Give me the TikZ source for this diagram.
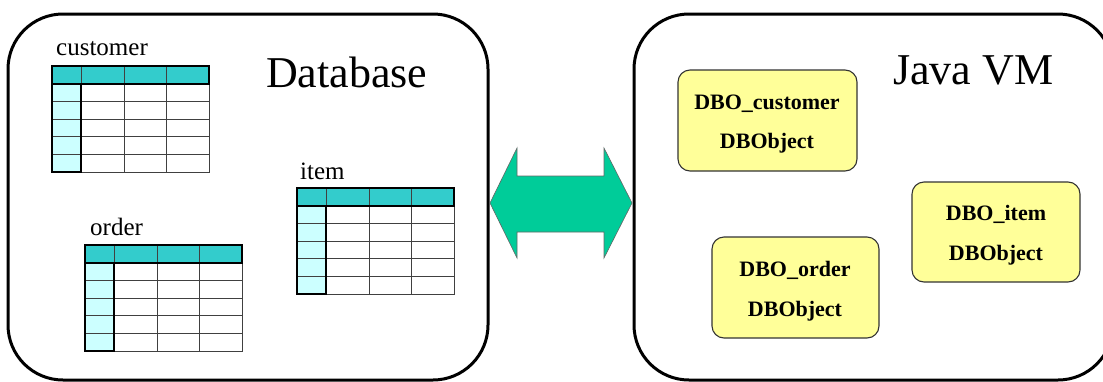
\documentclass[tikz,border=0pt]{standalone}
\usepackage{fontspec}
\setmainfont{Liberation Serif}
\definecolor{hdr}{RGB}{51,204,204}
\definecolor{colone}{RGB}{204,255,255}
\definecolor{arrfill}{RGB}{0,204,153}
\definecolor{objfill}{RGB}{255,255,153}
\tikzset{
  panel/.style={draw=black, line width=3pt, rounded corners=55pt},
  objbox/.style={draw=black!80, line width=1.1pt, fill=objfill, rounded corners=12pt, inner sep=0pt},
  objtext/.style={anchor=base, inner sep=0pt, font=\fontsize{22}{26}\selectfont\bfseries},
  tlabel/.style={anchor=base west, inner sep=0pt, font=\fontsize{25}{30}\selectfont},
  biglabel/.style={anchor=base west, inner sep=0pt, font=\fontsize{44}{50}\selectfont},
  dbtable/.pic={
    \fill[hdr] (0,0) rectangle (157,18);
    \fill[colone] (0,18) rectangle (29,106);
    \fill[white] (29,18) rectangle (157,106);
    \foreach \yy in {35.6,53.2,70.8,88.4}
      \draw[line width=1pt, draw=black!75] (0,\yy) -- (157,\yy);
    \foreach \xx in {29,72,114}
      \draw[line width=1pt, draw=black!75] (\xx,0) -- (\xx,106);
    \draw[line width=1pt, draw=black!75] (157,18) -- (157,106) -- (0,106);
    \draw[line width=2.2pt] (0,0) rectangle (157,18);
    \draw[line width=2.2pt] (0,18) rectangle (29,106);
  }
}
\begin{document}
\begin{tikzpicture}[x=1pt, y=-1pt]
  \useasboundingbox (0,0) rectangle (1103,381);
  \clip (0,0) rectangle (1103,381);

  % panels
  \draw[panel] (8,14) rectangle (488,380);
  \draw[panel] (634,14) rectangle (1113,380);

  \node[biglabel] (dblabel) at (266,87) {Database};
  \node[biglabel] (jvmlabel) at (893,84) {Java VM};

  % tables
  \node[tlabel] (lcust) at (56,55) {customer};
  \pic at (52,66) {dbtable};
  \node[tlabel] (lorder) at (90,235) {order};
  \pic at (85,245) {dbtable};
  \node[tlabel] (litem) at (300,179) {item};
  \pic at (297,188) {dbtable};

  % double block arrow
  \coordinate (al) at (490,203);
  \coordinate (ar) at (632,203);
  \fill[arrfill, draw=black!60, line width=0.6pt]
    (al) -- (517,148) -- (517,176) -- (604,176) -- (604,148) -- (ar)
    -- (604,258) -- (604,232) -- (517,232) -- (517,258) -- cycle;

  % objects
  \node[objbox, minimum width=179pt, minimum height=101pt] (ocust) at (767.5,120.5) {};
  \node[objtext] (ocustA) at (767,109) {DBO\_customer};
  \node[objtext] (ocustB) at (767,148) {DBObject};

  \node[objbox, minimum width=168pt, minimum height=100pt] (oitem) at (996,232) {};
  \node[objtext] (oitemA) at (996,220) {DBO\_item};
  \node[objtext] (oitemB) at (996,260) {DBObject};

  \node[objbox, minimum width=167pt, minimum height=101pt] (oorder) at (795.5,287.5) {};
  \node[objtext] (oorderA) at (795,276) {DBO\_order};
  \node[objtext] (oorderB) at (795,316) {DBObject};
\end{tikzpicture}
\end{document}
